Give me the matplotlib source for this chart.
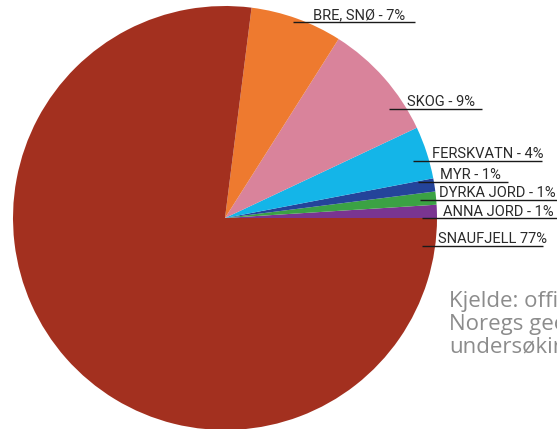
import matplotlib
matplotlib.use("Agg")
import matplotlib.pyplot as plt

labels = ["ANNA JORD - 1%", "DYRKA JORD - 1%", "MYR - 1%", "FERSKVATN - 4%",
          "SKOG - 9%", "BRE, SNØ - 7%", "SNAUFJELL 77%"]
values = [1, 1, 1, 4, 9, 7, 77]
colors = ["#7A3591", "#3BA244", "#24449A", "#14B5E8", "#D9839B", "#EE7A2F", "#A3301F"]
source_lines = ["Kjelde: offisiell statistikk,", "Noregs geologiske", "undersøking"]

W, H = 557, 429
fig = plt.figure(figsize=(W / 100, H / 100), dpi=100)
ax = fig.add_axes([0, 0, 1, 1])

cx, cy, r = 225, H - 218, 212
ax.pie(values, colors=colors, startangle=0, counterclock=True,
       center=(cx, cy), radius=r, frame=True,
       wedgeprops=dict(linewidth=0))
ax.set_xlim(0, W)
ax.set_ylim(0, H)
ax.set_aspect("equal")
ax.axis("off")

# label layout (pixels from top-left): text x, baseline y, line x0, line x1, line y
label_pos = {
    "BRE, SNØ - 7%": (313, 19, 293, 415, 22),
    "SKOG - 9%": (407, 106, 389, 482, 109),
    "FERSKVATN - 4%": (432, 158, 413, 542, 161),
    "MYR - 1%": (440, 179, 418, 508, 182),
    "DYRKA JORD - 1%": (439, 197, 420, 557, 200),
    "ANNA JORD - 1%": (443, 216, 422, 557, 218),
    "SNAUFJELL 77%": (438, 243, 422, 543, 246),
}
for lab in labels:
    tx, ty, x0, x1, ly = label_pos[lab]
    ax.text(tx, H - ty, lab, fontsize=10.5, family="Roboto", color="#2a2a2a",
            ha="left", va="baseline")
    ax.plot([x0, x1], [H - ly, H - ly], color="#1a1a1a", lw=1.0, solid_capstyle="butt")

for i, line in enumerate(source_lines):
    ax.text(449, H - (307 + 23 * i), line, fontsize=16, family="Open Sans",
            color="#8c8c8c", ha="left", va="baseline")

fig.savefig("out.png", dpi=100)
